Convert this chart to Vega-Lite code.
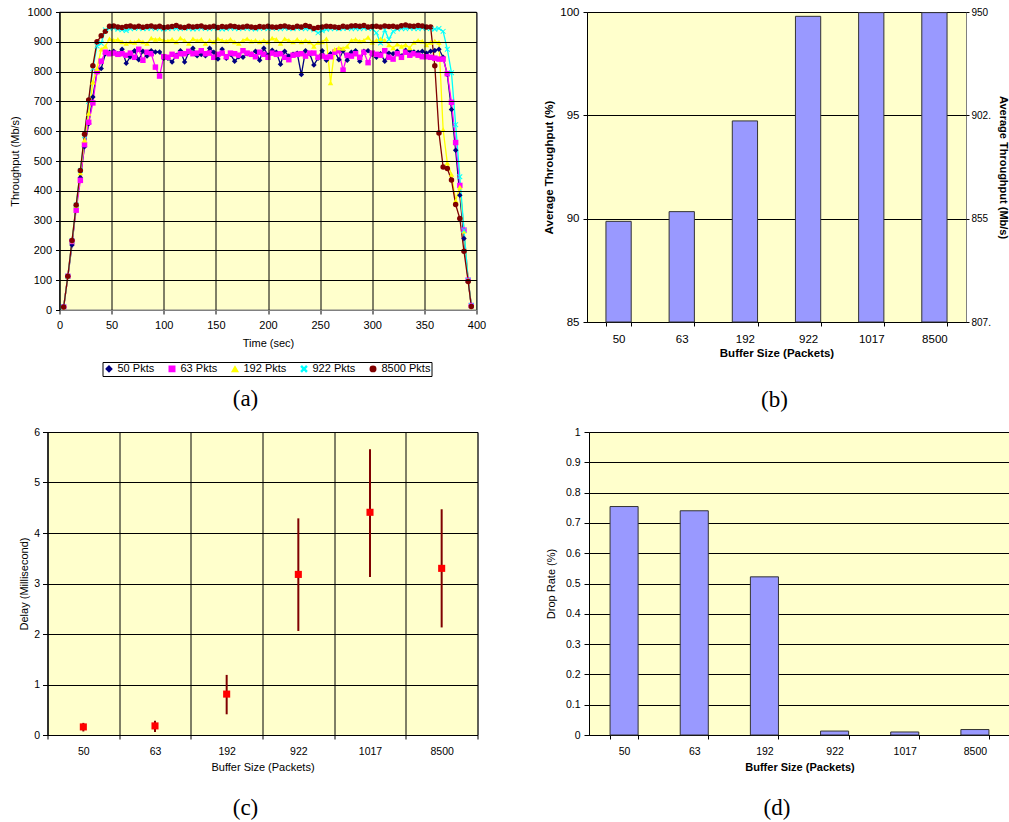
{
  "$schema": "https://vega.github.io/schema/vega-lite/v6.json",
  "padding": {"left": 9.5, "top": 5, "right": 0, "bottom": 0},
  "spacing": 13,
  "config": {
    "font": "Liberation Sans",
    "view": {"fill": "#FFFFCC", "stroke": "#808080", "strokeWidth": 1},
    "axis": {
      "labelFont": "Liberation Sans", "titleFont": "Liberation Sans",
      "labelColor": "#000000", "titleColor": "#000000",
      "domainColor": "#000000", "tickColor": "#000000",
      "gridColor": "#000000", "gridOpacity": 1, "gridWidth": 1,
      "tickSize": 4, "labelFontSize": 11, "titleFontSize": 11,
      "titleFontWeight": "normal", "labelFlush": false
    },
    "title": {"font": "Liberation Serif", "fontSize": 23, "fontWeight": "normal", "color": "#000000"}
  },
  "datasets": {
    "ts": [
      {"t":4,"50 Pkts":10,"63 Pkts":10,"192 Pkts":10,"922 Pkts":10,"8500 Pkts":10},
      {"t":8,"50 Pkts":112,"63 Pkts":113,"192 Pkts":113,"922 Pkts":113,"8500 Pkts":113},
      {"t":12,"50 Pkts":218,"63 Pkts":230,"192 Pkts":232,"922 Pkts":232,"8500 Pkts":233},
      {"t":16,"50 Pkts":350,"63 Pkts":335,"192 Pkts":350,"922 Pkts":352,"8500 Pkts":352},
      {"t":20,"50 Pkts":445,"63 Pkts":435,"192 Pkts":460,"922 Pkts":468,"8500 Pkts":468},
      {"t":24,"50 Pkts":548,"63 Pkts":555,"192 Pkts":570,"922 Pkts":585,"8500 Pkts":590},
      {"t":28,"50 Pkts":625,"63 Pkts":630,"192 Pkts":660,"922 Pkts":700,"8500 Pkts":705},
      {"t":32,"50 Pkts":715,"63 Pkts":695,"192 Pkts":765,"922 Pkts":810,"8500 Pkts":820},
      {"t":36,"50 Pkts":800,"63 Pkts":800,"192 Pkts":810,"922 Pkts":886,"8500 Pkts":900},
      {"t":40,"50 Pkts":810,"63 Pkts":835,"192 Pkts":875,"922 Pkts":895,"8500 Pkts":920},
      {"t":44,"50 Pkts":860,"63 Pkts":865,"192 Pkts":885,"922 Pkts":940,"8500 Pkts":935},
      {"t":48,"50 Pkts":865,"63 Pkts":860,"192 Pkts":910,"922 Pkts":945,"8500 Pkts":952},
      {"t":52,"50 Pkts":868,"63 Pkts":862,"192 Pkts":905,"922 Pkts":946,"8500 Pkts":953},
      {"t":56,"50 Pkts":860,"63 Pkts":858,"192 Pkts":908,"922 Pkts":942,"8500 Pkts":950},
      {"t":60,"50 Pkts":875,"63 Pkts":860,"192 Pkts":900,"922 Pkts":940,"8500 Pkts":948},
      {"t":64,"50 Pkts":828,"63 Pkts":855,"192 Pkts":895,"922 Pkts":938,"8500 Pkts":951},
      {"t":68,"50 Pkts":850,"63 Pkts":862,"192 Pkts":900,"922 Pkts":944,"8500 Pkts":953},
      {"t":72,"50 Pkts":870,"63 Pkts":848,"192 Pkts":898,"922 Pkts":945,"8500 Pkts":950},
      {"t":76,"50 Pkts":840,"63 Pkts":875,"192 Pkts":905,"922 Pkts":946,"8500 Pkts":952},
      {"t":80,"50 Pkts":868,"63 Pkts":838,"192 Pkts":900,"922 Pkts":944,"8500 Pkts":949},
      {"t":84,"50 Pkts":852,"63 Pkts":865,"192 Pkts":895,"922 Pkts":945,"8500 Pkts":951},
      {"t":88,"50 Pkts":870,"63 Pkts":860,"192 Pkts":912,"922 Pkts":946,"8500 Pkts":953},
      {"t":92,"50 Pkts":866,"63 Pkts":815,"192 Pkts":908,"922 Pkts":944,"8500 Pkts":950},
      {"t":96,"50 Pkts":866,"63 Pkts":785,"192 Pkts":910,"922 Pkts":945,"8500 Pkts":952},
      {"t":100,"50 Pkts":845,"63 Pkts":850,"192 Pkts":905,"922 Pkts":943,"8500 Pkts":948},
      {"t":104,"50 Pkts":845,"63 Pkts":848,"192 Pkts":903,"922 Pkts":944,"8500 Pkts":950},
      {"t":108,"50 Pkts":832,"63 Pkts":858,"192 Pkts":908,"922 Pkts":946,"8500 Pkts":951},
      {"t":112,"50 Pkts":855,"63 Pkts":852,"192 Pkts":900,"922 Pkts":945,"8500 Pkts":955},
      {"t":116,"50 Pkts":870,"63 Pkts":860,"192 Pkts":912,"922 Pkts":944,"8500 Pkts":950},
      {"t":120,"50 Pkts":832,"63 Pkts":860,"192 Pkts":905,"922 Pkts":946,"8500 Pkts":948},
      {"t":124,"50 Pkts":865,"63 Pkts":868,"192 Pkts":895,"922 Pkts":945,"8500 Pkts":952},
      {"t":128,"50 Pkts":878,"63 Pkts":860,"192 Pkts":910,"922 Pkts":943,"8500 Pkts":950},
      {"t":132,"50 Pkts":853,"63 Pkts":862,"192 Pkts":904,"922 Pkts":944,"8500 Pkts":951},
      {"t":136,"50 Pkts":857,"63 Pkts":870,"192 Pkts":908,"922 Pkts":946,"8500 Pkts":953},
      {"t":140,"50 Pkts":853,"63 Pkts":860,"192 Pkts":895,"922 Pkts":945,"8500 Pkts":949},
      {"t":144,"50 Pkts":878,"63 Pkts":862,"192 Pkts":905,"922 Pkts":944,"8500 Pkts":950},
      {"t":148,"50 Pkts":865,"63 Pkts":848,"192 Pkts":900,"922 Pkts":946,"8500 Pkts":952},
      {"t":152,"50 Pkts":842,"63 Pkts":858,"192 Pkts":910,"922 Pkts":945,"8500 Pkts":948},
      {"t":156,"50 Pkts":875,"63 Pkts":862,"192 Pkts":905,"922 Pkts":943,"8500 Pkts":951},
      {"t":160,"50 Pkts":845,"63 Pkts":850,"192 Pkts":902,"922 Pkts":944,"8500 Pkts":950},
      {"t":164,"50 Pkts":858,"63 Pkts":862,"192 Pkts":908,"922 Pkts":946,"8500 Pkts":953},
      {"t":168,"50 Pkts":835,"63 Pkts":860,"192 Pkts":900,"922 Pkts":945,"8500 Pkts":951},
      {"t":172,"50 Pkts":850,"63 Pkts":855,"192 Pkts":895,"922 Pkts":944,"8500 Pkts":949},
      {"t":176,"50 Pkts":848,"63 Pkts":870,"192 Pkts":905,"922 Pkts":946,"8500 Pkts":950},
      {"t":180,"50 Pkts":860,"63 Pkts":862,"192 Pkts":910,"922 Pkts":945,"8500 Pkts":952},
      {"t":184,"50 Pkts":858,"63 Pkts":858,"192 Pkts":902,"922 Pkts":944,"8500 Pkts":950},
      {"t":188,"50 Pkts":868,"63 Pkts":850,"192 Pkts":905,"922 Pkts":943,"8500 Pkts":948},
      {"t":192,"50 Pkts":838,"63 Pkts":865,"192 Pkts":900,"922 Pkts":945,"8500 Pkts":951},
      {"t":196,"50 Pkts":878,"63 Pkts":858,"192 Pkts":905,"922 Pkts":946,"8500 Pkts":950},
      {"t":200,"50 Pkts":855,"63 Pkts":848,"192 Pkts":900,"922 Pkts":944,"8500 Pkts":952},
      {"t":204,"50 Pkts":872,"63 Pkts":862,"192 Pkts":912,"922 Pkts":946,"8500 Pkts":950},
      {"t":208,"50 Pkts":865,"63 Pkts":858,"192 Pkts":908,"922 Pkts":945,"8500 Pkts":949},
      {"t":212,"50 Pkts":825,"63 Pkts":860,"192 Pkts":895,"922 Pkts":944,"8500 Pkts":951},
      {"t":216,"50 Pkts":868,"63 Pkts":848,"192 Pkts":910,"922 Pkts":946,"8500 Pkts":953},
      {"t":220,"50 Pkts":852,"63 Pkts":840,"192 Pkts":905,"922 Pkts":945,"8500 Pkts":950},
      {"t":224,"50 Pkts":858,"63 Pkts":855,"192 Pkts":900,"922 Pkts":944,"8500 Pkts":948},
      {"t":228,"50 Pkts":862,"63 Pkts":858,"192 Pkts":908,"922 Pkts":946,"8500 Pkts":952},
      {"t":232,"50 Pkts":790,"63 Pkts":860,"192 Pkts":900,"922 Pkts":945,"8500 Pkts":950},
      {"t":236,"50 Pkts":870,"63 Pkts":852,"192 Pkts":905,"922 Pkts":944,"8500 Pkts":955},
      {"t":240,"50 Pkts":860,"63 Pkts":862,"192 Pkts":900,"922 Pkts":945,"8500 Pkts":951},
      {"t":244,"50 Pkts":822,"63 Pkts":862,"192 Pkts":885,"922 Pkts":940,"8500 Pkts":945},
      {"t":248,"50 Pkts":845,"63 Pkts":848,"192 Pkts":898,"922 Pkts":930,"8500 Pkts":948},
      {"t":252,"50 Pkts":870,"63 Pkts":852,"192 Pkts":900,"922 Pkts":937,"8500 Pkts":950},
      {"t":256,"50 Pkts":838,"63 Pkts":848,"192 Pkts":910,"922 Pkts":942,"8500 Pkts":952},
      {"t":260,"50 Pkts":860,"63 Pkts":850,"192 Pkts":762,"922 Pkts":944,"8500 Pkts":951},
      {"t":264,"50 Pkts":868,"63 Pkts":865,"192 Pkts":875,"922 Pkts":945,"8500 Pkts":950},
      {"t":268,"50 Pkts":840,"63 Pkts":870,"192 Pkts":880,"922 Pkts":944,"8500 Pkts":948},
      {"t":272,"50 Pkts":870,"63 Pkts":805,"192 Pkts":878,"922 Pkts":945,"8500 Pkts":952},
      {"t":276,"50 Pkts":838,"63 Pkts":855,"192 Pkts":885,"922 Pkts":946,"8500 Pkts":950},
      {"t":280,"50 Pkts":865,"63 Pkts":852,"192 Pkts":905,"922 Pkts":944,"8500 Pkts":953},
      {"t":284,"50 Pkts":870,"63 Pkts":860,"192 Pkts":908,"922 Pkts":945,"8500 Pkts":954},
      {"t":288,"50 Pkts":835,"63 Pkts":848,"192 Pkts":902,"922 Pkts":944,"8500 Pkts":952},
      {"t":292,"50 Pkts":868,"63 Pkts":865,"192 Pkts":905,"922 Pkts":946,"8500 Pkts":955},
      {"t":296,"50 Pkts":870,"63 Pkts":830,"192 Pkts":915,"922 Pkts":945,"8500 Pkts":950},
      {"t":300,"50 Pkts":858,"63 Pkts":862,"192 Pkts":898,"922 Pkts":944,"8500 Pkts":951},
      {"t":304,"50 Pkts":848,"63 Pkts":858,"192 Pkts":905,"922 Pkts":930,"8500 Pkts":952},
      {"t":308,"50 Pkts":860,"63 Pkts":855,"192 Pkts":910,"922 Pkts":896,"8500 Pkts":950},
      {"t":312,"50 Pkts":835,"63 Pkts":870,"192 Pkts":905,"922 Pkts":940,"8500 Pkts":953},
      {"t":316,"50 Pkts":862,"63 Pkts":848,"192 Pkts":890,"922 Pkts":908,"8500 Pkts":951},
      {"t":320,"50 Pkts":860,"63 Pkts":842,"192 Pkts":880,"922 Pkts":935,"8500 Pkts":952},
      {"t":324,"50 Pkts":868,"63 Pkts":860,"192 Pkts":892,"922 Pkts":943,"8500 Pkts":950},
      {"t":328,"50 Pkts":852,"63 Pkts":848,"192 Pkts":885,"922 Pkts":945,"8500 Pkts":954},
      {"t":332,"50 Pkts":872,"63 Pkts":865,"192 Pkts":890,"922 Pkts":944,"8500 Pkts":956},
      {"t":336,"50 Pkts":870,"63 Pkts":855,"192 Pkts":880,"922 Pkts":946,"8500 Pkts":953},
      {"t":340,"50 Pkts":866,"63 Pkts":860,"192 Pkts":898,"922 Pkts":945,"8500 Pkts":952},
      {"t":344,"50 Pkts":865,"63 Pkts":855,"192 Pkts":905,"922 Pkts":944,"8500 Pkts":955},
      {"t":348,"50 Pkts":868,"63 Pkts":850,"192 Pkts":902,"922 Pkts":946,"8500 Pkts":953},
      {"t":352,"50 Pkts":862,"63 Pkts":850,"192 Pkts":890,"922 Pkts":945,"8500 Pkts":950},
      {"t":356,"50 Pkts":868,"63 Pkts":848,"192 Pkts":898,"922 Pkts":945,"8500 Pkts":950},
      {"t":360,"50 Pkts":871,"63 Pkts":845,"192 Pkts":902,"922 Pkts":942,"8500 Pkts":820},
      {"t":364,"50 Pkts":875,"63 Pkts":842,"192 Pkts":898,"922 Pkts":945,"8500 Pkts":594},
      {"t":368,"50 Pkts":848,"63 Pkts":842,"192 Pkts":605,"922 Pkts":935,"8500 Pkts":480},
      {"t":372,"50 Pkts":790,"63 Pkts":793,"192 Pkts":494,"922 Pkts":875,"8500 Pkts":475},
      {"t":376,"50 Pkts":673,"63 Pkts":697,"192 Pkts":455,"922 Pkts":796,"8500 Pkts":436},
      {"t":380,"50 Pkts":536,"63 Pkts":562,"192 Pkts":367,"922 Pkts":622,"8500 Pkts":354},
      {"t":384,"50 Pkts":385,"63 Pkts":418,"192 Pkts":412,"922 Pkts":447,"8500 Pkts":307},
      {"t":388,"50 Pkts":240,"63 Pkts":268,"192 Pkts":265,"922 Pkts":268,"8500 Pkts":197},
      {"t":392,"50 Pkts":100,"63 Pkts":100,"192 Pkts":100,"922 Pkts":100,"8500 Pkts":96},
      {"t":395,"50 Pkts":15,"63 Pkts":15,"192 Pkts":15,"922 Pkts":15,"8500 Pkts":12}
    ],
    "buf": [
      {"buffer":"50","pct":89.87,"delay":0.16,"lo":0.07,"hi":0.24,"drop":0.754},
      {"buffer":"63","pct":90.34,"delay":0.18,"lo":0.06,"hi":0.28,"drop":0.740},
      {"buffer":"192","pct":94.73,"delay":0.81,"lo":0.41,"hi":1.19,"drop":0.522},
      {"buffer":"922","pct":99.79,"delay":3.18,"lo":2.06,"hi":4.29,"drop":0.013},
      {"buffer":"1017","pct":99.97,"delay":4.41,"lo":3.13,"hi":5.66,"drop":0.010},
      {"buffer":"8500","pct":99.97,"delay":3.30,"lo":2.13,"hi":4.47,"drop":0.018}
    ]
  },
  "vconcat": [
    {
      "spacing": 55.5,
      "hconcat": [
        {
          "width": 429, "height": 298,
          "view": {"fill": null, "stroke": null},
          "title": {"text": "(a)", "orient": "bottom", "anchor": "middle", "offset": 40, "dx": -16.5},
          "layer": [
            {
              "data": {"values": [{}]},
              "mark": {"type": "rect", "fill": "#FFFFCC", "stroke": "#808080", "strokeWidth": 1},
              "encoding": {
                "x": {"datum": 0, "type": "quantitative", "scale": {"domain": [0, 400], "nice": false, "range": [12, 429]},
                  "axis": {"values": [0, 50, 100, 150, 200, 250, 300, 350, 400], "grid": true, "zindex": 1, "title": "Time (sec)", "labelPadding": 5, "titlePadding": 7, "domainColor": "#808080"}},
                "x2": {"datum": 400},
                "y": {"datum": 0, "type": "quantitative", "scale": {"domain": [0, 1000], "nice": false},
                  "axis": {"values": [0, 100, 200, 300, 400, 500, 600, 700, 800, 900, 1000], "format": "d", "grid": true, "zindex": 1, "offset": -12, "title": "Throughput (Mb/s)", "labelPadding": 4, "titlePadding": 6.5}},
                "y2": {"datum": 1000}
              }
            },
            {
              "data": {"name": "ts"},
              "transform": [{"fold": ["50 Pkts", "63 Pkts", "192 Pkts", "922 Pkts", "8500 Pkts"], "as": ["series", "thr"]}],
              "encoding": {
                "x": {"field": "t", "type": "quantitative", "scale": {"domain": [0, 400], "nice": false, "range": [12, 429]},
                  "axis": {"values": [0, 50, 100, 150, 200, 250, 300, 350, 400], "grid": true, "zindex": 1, "title": "Time (sec)", "labelPadding": 5, "titlePadding": 7, "domainColor": "#808080"}},
                "y": {"field": "thr", "type": "quantitative", "scale": {"domain": [0, 1000], "nice": false},
                  "axis": {"values": [0, 100, 200, 300, 400, 500, 600, 700, 800, 900, 1000], "format": "d", "grid": true, "zindex": 1, "offset": -12, "title": "Throughput (Mb/s)", "labelPadding": 4, "titlePadding": 6.5}},
                "color": {"field": "series", "type": "nominal",
                  "scale": {"domain": ["50 Pkts", "63 Pkts", "192 Pkts", "922 Pkts", "8500 Pkts"], "range": ["#000080", "#FF00FF", "#FFFF00", "#00FFFF", "#800000"]},
                  "legend": {"orient": "none", "legendX": 55, "legendY": 350, "direction": "horizontal", "columns": 5, "title": null, "strokeColor": "#000000", "fillColor": "#FFFFFF", "padding": 1, "labelFontSize": 11, "labelFont": "Liberation Sans", "labelColor": "#000000", "symbolSize": 30, "columnPadding": 11, "labelOffset": 3}}
              },
              "layer": [
                {"mark": {"type": "line", "strokeWidth": 1.3}},
                {"mark": {"type": "point", "filled": true, "size": 30, "opacity": 1},
                  "encoding": {"shape": {"field": "series", "type": "nominal",
                    "scale": {"domain": ["50 Pkts", "63 Pkts", "192 Pkts", "922 Pkts", "8500 Pkts"], "range": ["diamond", "square", "triangle-up", "M-1,-0.75L-0.75,-1L0,-0.25L0.75,-1L1,-0.75L0.25,0L1,0.75L0.75,1L0,0.25L-0.75,1L-1,0.75L-0.25,0Z", "circle"]},
                    "legend": {"orient": "none", "legendX": 55, "legendY": 350, "direction": "horizontal", "columns": 5, "title": null, "strokeColor": "#000000", "fillColor": "#FFFFFF", "padding": 1, "labelFontSize": 11, "labelFont": "Liberation Sans", "labelColor": "#000000", "symbolSize": 30, "columnPadding": 11, "labelOffset": 3}}}}
              ]
            }
          ]
        },
        {
          "width": 379, "height": 310,
          "title": {"text": "(b)", "orient": "bottom", "anchor": "middle", "offset": 30, "dx": -2},
          "data": {"name": "buf"},
          "encoding": {
            "x": {"field": "buffer", "type": "nominal", "sort": null,
              "scale": {"type": "band", "paddingInner": 0.6, "paddingOuter": 0.3},
              "axis": {"tickBand": "extent", "labelAngle": 0, "labelFontSize": 11.5, "labelPadding": 7, "title": "Buffer Size (Packets)", "titleFontWeight": "bold", "titleFontSize": 11.5, "titlePadding": 3}}
          },
          "layer": [
            {"mark": {"type": "bar", "fill": "#9999FF", "stroke": "#333333", "strokeWidth": 1},
              "encoding": {
                "y": {"field": "pct", "type": "quantitative", "scale": {"domain": [85, 100], "nice": false, "zero": false},
                  "axis": {"values": [85, 90, 95, 100], "grid": true, "labelFontSize": 11.5, "labelPadding": 4, "title": "Average Throughput (%)", "titleFontWeight": "bold", "titleFontSize": 11.5, "titlePadding": 5.5}},
                "y2": {"datum": 85}
              }},
            {"mark": {"type": "point", "opacity": 0},
              "encoding": {
                "y": {"field": "pct", "type": "quantitative", "scale": {"domain": [85, 100], "nice": false, "zero": false},
                  "axis": {"orient": "right", "values": [85, 90, 95, 100], "grid": false, "domain": false, "tickSize": 3, "labelFontSize": 10, "labelPadding": 2,
                    "labelExpr": "datum.value == 100 ? '950' : datum.value == 95 ? '902.' : datum.value == 90 ? '855' : '807.'",
                    "title": "Average Throughput (Mb/s)", "titleFontWeight": "bold", "titleFontSize": 11, "titlePadding": 7}}
              }}
          ],
          "resolve": {"axis": {"y": "independent"}}
        }
      ]
    },
    {
      "spacing": 66.5,
      "hconcat": [
        {
          "width": 430, "height": 303,
          "title": {"text": "(c)", "orient": "bottom", "anchor": "middle", "offset": 24, "dx": -17},
          "data": {"name": "buf"},
          "encoding": {
            "x": {"field": "buffer", "type": "nominal", "sort": null,
              "scale": {"type": "band", "paddingInner": 0, "paddingOuter": 0},
              "axis": {"tickBand": "extent", "grid": true, "labelAngle": 0, "labelFontSize": 10.5, "labelPadding": 7, "title": "Buffer Size (Packets)", "titlePadding": 5}}
          },
          "layer": [
            {"mark": {"type": "rule", "color": "#800000", "strokeWidth": 2},
              "encoding": {
                "y": {"field": "lo", "type": "quantitative", "scale": {"domain": [0, 6], "nice": false},
                  "axis": {"values": [0, 1, 2, 3, 4, 5, 6], "grid": true, "tickSize": 5, "labelFontSize": 10.5, "labelPadding": 3, "title": "Delay (Millisecond)", "titlePadding": 4}},
                "y2": {"field": "hi"}
              }},
            {"mark": {"type": "point", "shape": "square", "filled": true, "color": "#FF0000", "size": 50, "opacity": 1},
              "encoding": {"y": {"field": "delay", "type": "quantitative"}}}
          ]
        },
        {
          "width": 421, "height": 303,
          "title": {"text": "(d)", "orient": "bottom", "anchor": "middle", "offset": 24, "dx": -22.5},
          "data": {"name": "buf"},
          "mark": {"type": "bar", "fill": "#9999FF", "stroke": "#333333", "strokeWidth": 1},
          "encoding": {
            "x": {"field": "buffer", "type": "nominal", "sort": null,
              "scale": {"type": "band", "paddingInner": 0.6, "paddingOuter": 0.3},
              "axis": {"tickBand": "extent", "labelAngle": 0, "labelFontSize": 10.5, "labelPadding": 7, "title": "Buffer Size (Packets)", "titleFontWeight": "bold", "titleFontSize": 11, "titlePadding": 5}},
            "y": {"field": "drop", "type": "quantitative", "scale": {"domain": [0, 1], "nice": false},
              "axis": {"values": [0, 0.1, 0.2, 0.3, 0.4, 0.5, 0.6, 0.7, 0.8, 0.9, 1], "format": ".1~f", "grid": true, "tickSize": 5, "labelFontSize": 10.5, "labelPadding": 4, "title": "Drop Rate (%)", "titlePadding": 8.5}}
          }
        }
      ]
    }
  ]
}
